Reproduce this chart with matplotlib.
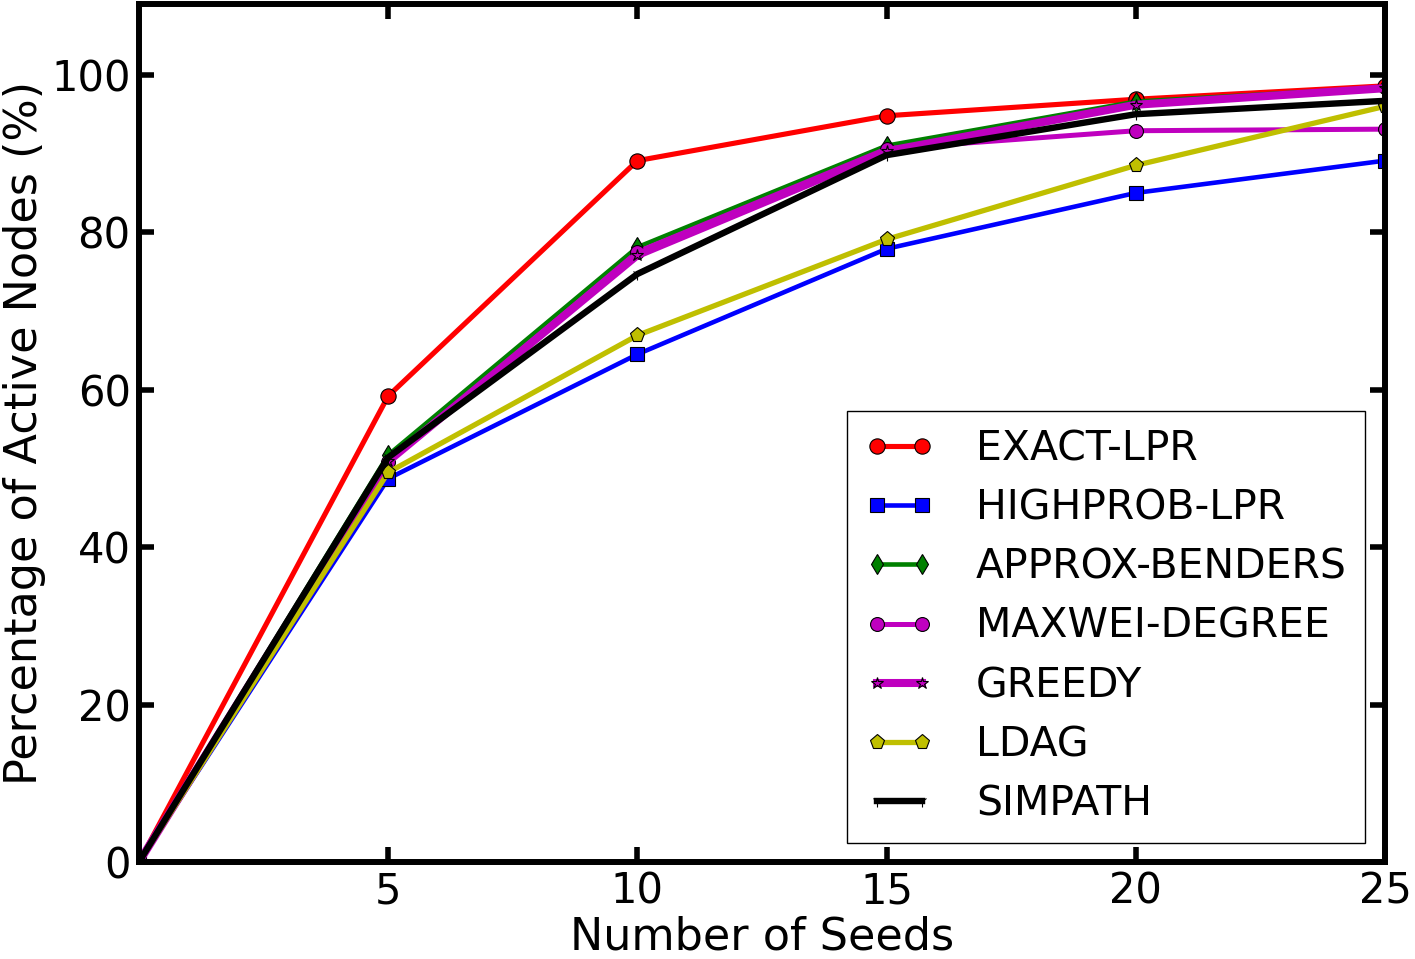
import numpy as np
from matplotlib import pyplot as plt

seeds = [0, 5, 10, 15, 20, 25]

exact_lpr = [0, 59.2, 89.1, 94.8, 96.9, 98.6]
highprob_lpr = [0, 48.7, 64.5, 77.9, 85.0, 89.1]
approx_benders = [0, 51.7, 78.1, 91.0, 96.6, 98.4]
maxwei_degree = [0, 50.8, 77.5, 90.6, 92.9, 93.1]
greedy = [0, 50.9, 77.1, 90.3, 96.2, 98.3]
ldag = [0, 49.5, 66.9, 79.1, 88.5, 96.0]
simpath = [0, 51.4, 74.7, 89.8, 95.0, 96.7]

labels = ["EXACT-LPR", "HIGHPROB-LPR", "APPROX-BENDERS", "MAXWEI-DEGREE",
          "GREEDY", "LDAG", "SIMPATH"]
series = [exact_lpr, highprob_lpr, approx_benders, maxwei_degree, greedy, ldag, simpath]
colors = ["#FF0000", "#0000FF", "#008000", "#BF00BF", "#BF00BF", "#BFBF00", "#000000"]
markers = ["o", "s", "d", "o", "*", "p", "1"]
msizes = [11, 10, 10, 10, 9, 11, 8]
lwidths = [3.7, 3.3, 3.3, 3.6, 5.8, 3.8, 4.6]

plt.rcParams['font.family'] = ['DejaVu Sans']

fig = plt.figure(figsize=(14.15, 9.59), dpi=100)
ax = fig.add_axes([139 / 1415, 97 / 959, 1246 / 1415, 858 / 959])

for i in range(len(series)):
    ax.plot(seeds, series[i], color=colors[i], marker=markers[i], markersize=msizes[i],
            linewidth=lwidths[i], markeredgecolor="k", markeredgewidth=0.8,
            label=labels[i])

ax.set_xlim(0, 25)
ax.set_ylim(0, 109)
ax.set_xticks([5, 10, 15, 20, 25])
ax.set_yticks([0, 20, 40, 60, 80, 100])
ax.tick_params(direction='in', length=11, width=4, labelsize=30, pad=6,
               top=True, right=True)
for s in ax.spines.values():
    s.set_linewidth(4.3)

ax.set_xlabel("Number of Seeds", fontsize=32, labelpad=2)
ax.set_ylabel("Percentage of Active Nodes (%)", fontsize=32, labelpad=4)

leg = ax.legend(loc='lower right', bbox_to_anchor=(0.984, 0.022), borderaxespad=0,
                fontsize=29.5, numpoints=2, handlelength=1.7, handletextpad=1.0,
                labelspacing=0.47, fancybox=False, framealpha=1, borderpad=0.45)
leg.get_frame().set_edgecolor("k")
leg.get_frame().set_linewidth(1.0)

plt.savefig("out.png", dpi=100)
